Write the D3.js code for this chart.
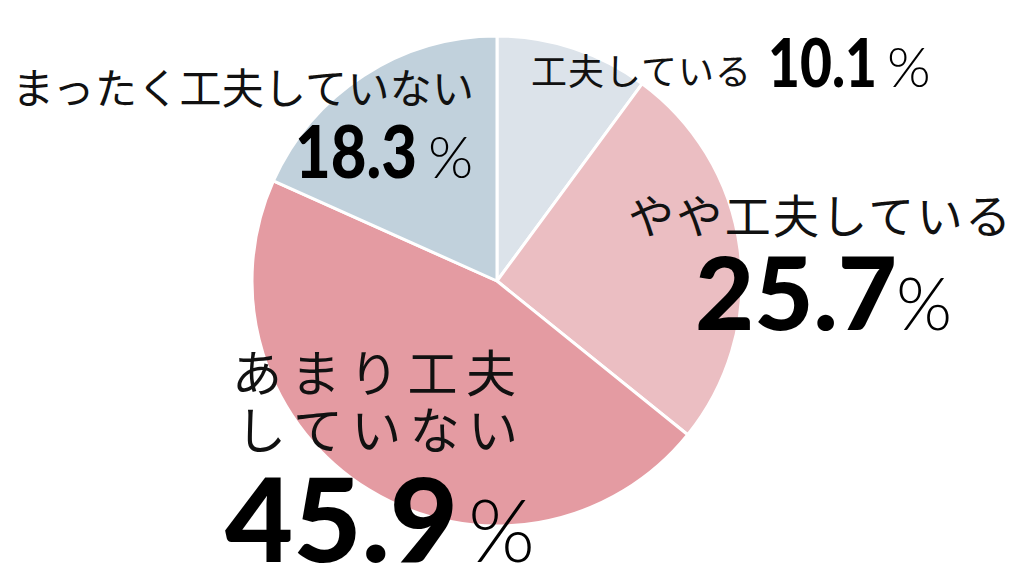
<!DOCTYPE html>
<html>
<head>
<meta charset="utf-8">
<script src="https://cdn.jsdelivr.net/npm/d3@7"></script>
<style>
  html, body { margin: 0; padding: 0; background: #fff; }
  svg { display: block; }
</style>
</head>
<body>
<div id="chart"></div>
<script>
// data
const categories = ['工夫している', 'やや工夫している', 'あまり工夫していない', 'まったく工夫していない'];
const values = [10.1, 25.7, 45.9, 18.3];
const colors = ['#dce3ea', '#ebbec2', '#e49ba2', '#c1d1dc'];

// label lines as printed (the long one wraps in two)
const labelLines = [
  ['工夫している'],
  ['やや工夫している'],
  ['あまり工夫', 'していない'],
  ['まったく工夫していない']
];

// where each label sits (x, baseline y, size, width)
const labelLayout = [
  { lines: [{ x: 531, y: 85, size: 36, len: 220 }], num: { x: 768, y: 87, size: 66, len: 109 }, pct: { x: 887, size: 56 } },
  { lines: [{ x: 628, y: 233, size: 46, len: 383 }], num: { x: 695, y: 330, size: 101, len: 202 }, pct: { x: 896, size: 72 } },
  { lines: [{ x: 232, y: 392, size: 50, len: 284 }, { x: 236, y: 449, size: 50, len: 282 }], num: { x: 225, y: 562, size: 116, len: 233 }, pct: { x: 468, size: 86 } },
  { lines: [{ x: 12, y: 104, size: 42, len: 462 }], num: { x: 295, y: 178, size: 72, len: 122 }, pct: { x: 428, size: 58 } }
];

const width = 1024, height = 588;
const cx = 497, cy = 281, radius = 245;

const svg = d3.select('#chart')
  .append('svg')
  .attr('width', width)
  .attr('height', height);

const pie = d3.pie().sort(null).value(d => d);
const arc = d3.arc().innerRadius(0).outerRadius(radius);

const g = svg.append('g')
  .attr('transform', `translate(${cx},${cy})`);

g.selectAll('path')
  .data(pie(values))
  .join('path')
  .attr('d', arc)
  .attr('fill', (d, i) => colors[i])
  .attr('stroke', '#fff')
  .attr('stroke-width', 3)
  .attr('stroke-linejoin', 'round');

const fmt = d3.format('.1f');

labelLayout.forEach((lay, i) => {
  lay.lines.forEach((ln, j) => {
    svg.append('text')
      .attr('x', ln.x)
      .attr('y', ln.y)
      .attr('font-family', '"Noto Sans CJK JP", "Noto Sans", sans-serif')
      .attr('font-size', ln.size)
      .attr('font-weight', 400)
      .attr('fill', '#111')
      .attr('textLength', ln.len)
      .attr('lengthAdjust', 'spacing')
      .text(labelLines[i][j]);
  });

  // the numbers are narrower than Lato, so squeeze them sideways
  const num = svg.append('text')
    .attr('font-family', 'Lato, "DejaVu Sans", sans-serif')
    .attr('font-size', lay.num.size)
    .attr('font-weight', 900)
    .attr('fill', '#000')
    .text(fmt(values[i]));
  const w = num.node().getComputedTextLength() || lay.num.len;
  num.attr('transform', `translate(${lay.num.x},${lay.num.y}) scale(${lay.num.len / w},1)`);

  svg.append('text')
    .attr('x', lay.pct.x)
    .attr('y', lay.num.y)
    .attr('font-family', 'Lato, "DejaVu Sans", sans-serif')
    .attr('font-size', lay.pct.size)
    .attr('font-weight', 300)
    .attr('fill', '#000')
    .text('%');
});
</script>
</body>
</html>
